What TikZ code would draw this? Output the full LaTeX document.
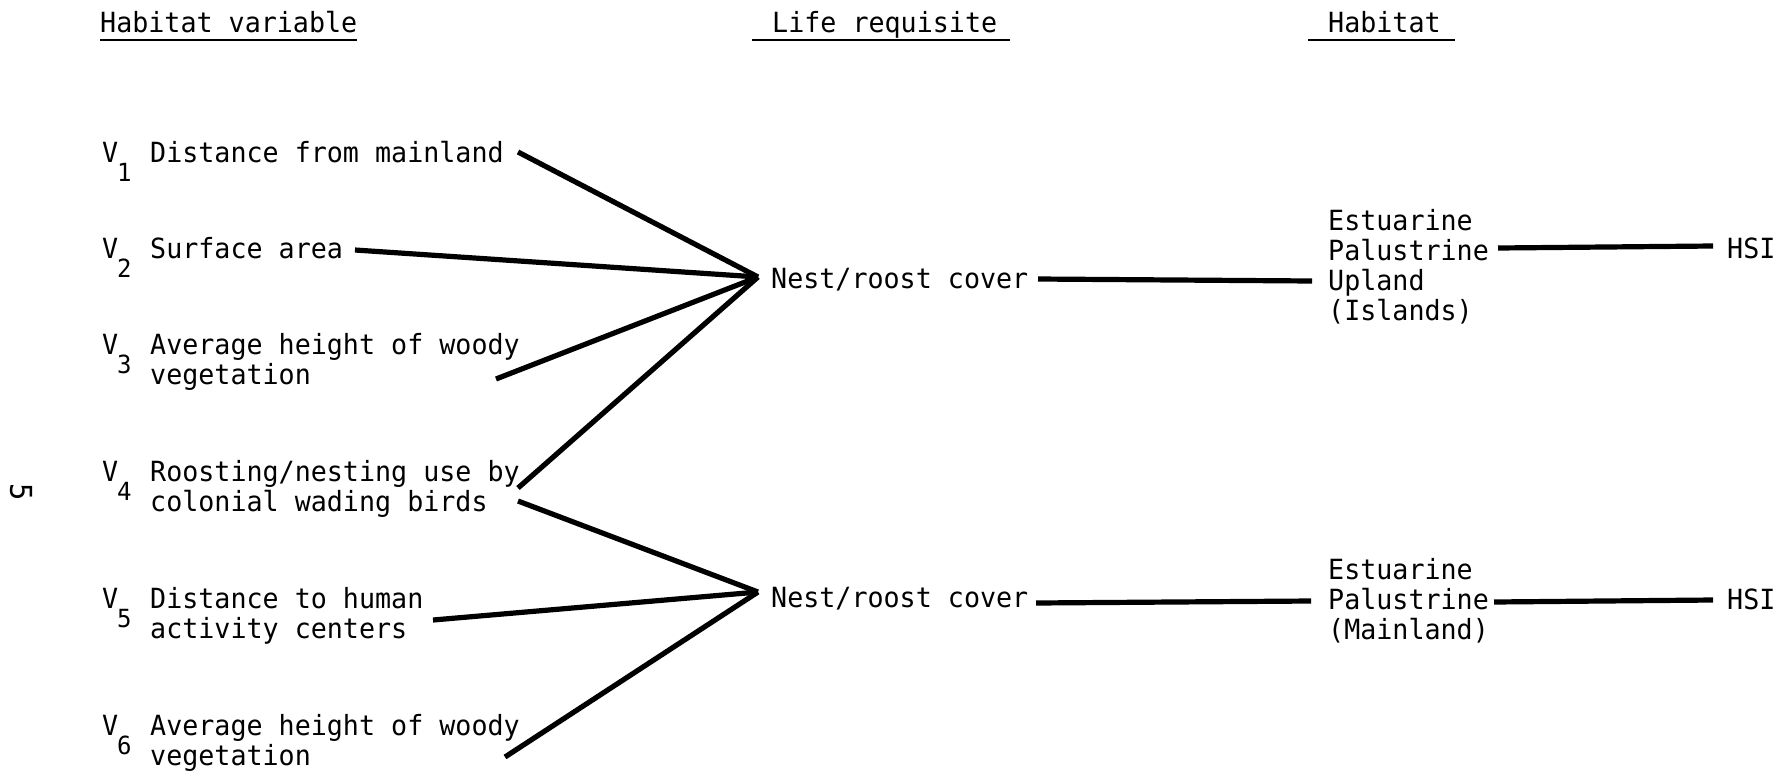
\documentclass[tikz,border=0pt]{standalone}
\usepackage{fontspec}
\setmainfont[FakeStretch=0.96]{DejaVu Sans Mono}
\begin{document}
\begin{tikzpicture}[x=1pt,y=-1pt,
  lbl/.style={anchor=base west,inner sep=0pt,font=\fontsize{27.8}{30}\selectfont},
  sub/.style={anchor=base west,inner sep=0pt,font=\fontsize{25}{30}\selectfont},
  link/.style={line width=5.2pt,line cap=butt,line join=miter},
  uline/.style={line width=2.4pt}]
\useasboundingbox (0,0) rectangle (1785,777);
% page number
\node[inner sep=0pt,rotate=-90,font=\fontsize{30}{30}\selectfont] (pg) at (21,492) {5};
% headers
\node[lbl] (hdA) at (100,32) {Habitat variable};
\node[lbl] (hdB) at (772,32) {Life requisite};
\node[lbl] (hdC) at (1328,32) {Habitat};
\draw[uline] (100,40) -- (357,40);
\draw[uline] (752,40) -- (1010,40);
\draw[uline] (1308,40) -- (1455,40);
% variables
\foreach \n/\y in {1/162,2/258,3/354,4/481,5/608,6/735}{
  \node[lbl] (V\n) at (102,\y) {V};
  \node[sub] (S\n) at (117,\y+19) {\n};
}
\node[lbl] (t1) at (150,162) {Distance from mainland};
\node[lbl] (t2) at (150,258) {Surface area};
\node[lbl] (t3a) at (150,354) {Average height of woody};
\node[lbl] (t3b) at (150,384) {vegetation};
\node[lbl] (t4a) at (150,481) {Roosting/nesting use by};
\node[lbl] (t4b) at (150,511) {colonial wading birds};
\node[lbl] (t5a) at (150,608) {Distance to human};
\node[lbl] (t5b) at (150,638) {activity centers};
\node[lbl] (t6a) at (150,735) {Average height of woody};
\node[lbl] (t6b) at (150,765) {vegetation};
% life requisites
\node[lbl] (n1) at (771,288) {Nest/roost cover};
\node[lbl] (n2) at (771,607) {Nest/roost cover};
% habitats
\node[lbl] (h1a) at (1328,230) {Estuarine};
\node[lbl] (h1b) at (1328,260) {Palustrine};
\node[lbl] (h1c) at (1328,290) {Upland};
\node[lbl] (h1d) at (1328,320) {(Islands)};
\node[lbl] (h2a) at (1328,579) {Estuarine};
\node[lbl] (h2b) at (1328,609) {Palustrine};
\node[lbl] (h2c) at (1328,639) {(Mainland)};
\node[lbl] (hsi1) at (1727,258) {HSI};
\node[lbl] (hsi2) at (1727,609) {HSI};
% connector points
\coordinate (e1) at (518,152);
\coordinate (e2) at (355,250);
\coordinate (e3) at (496,379);
\coordinate (e4a) at (518,488);
\coordinate (e4b) at (518,501);
\coordinate (e5) at (433,620);
\coordinate (e6) at (505,757);
\coordinate (hub1) at (758,277);
\coordinate (hub2) at (758,592);
\coordinate (n1e) at (1038,279);
\coordinate (h1w) at (1312,281);
\coordinate (h1e) at (1498,248);
\coordinate (s1w) at (1713,246);
\coordinate (n2e) at (1036,603);
\coordinate (h2w) at (1311,601);
\coordinate (h2e) at (1494,602);
\coordinate (s2w) at (1713,600);
\draw[link] (e1) -- (hub1);
\draw[link] (e2) -- (hub1);
\draw[link] (e3) -- (hub1);
\draw[link] (e4a) -- (hub1);
\draw[link] (e4b) -- (hub2);
\draw[link] (e5) -- (hub2);
\draw[link] (e6) -- (hub2);
\draw[link] (n1e) -- (h1w);
\draw[link] (h1e) -- (s1w);
\draw[link] (n2e) -- (h2w);
\draw[link] (h2e) -- (s2w);
\end{tikzpicture}
\end{document}
